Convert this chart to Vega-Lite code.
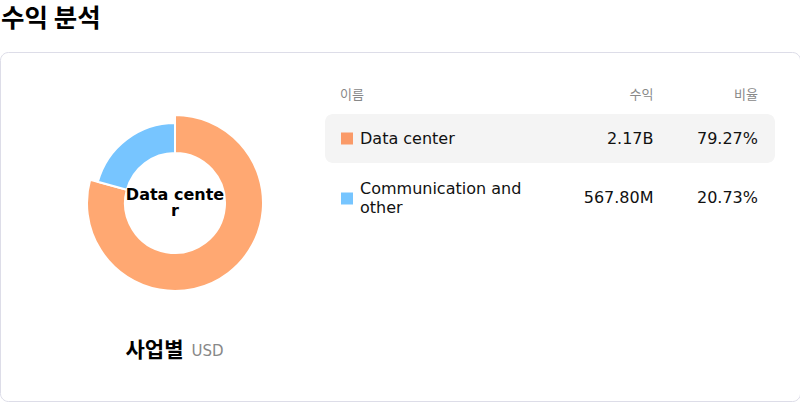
{
  "$schema": "https://vega.github.io/schema/vega-lite/v6.json",
  "description": "Revenue breakdown by business segment: donut chart with a small table of revenue and share.",
  "width": 800,
  "height": 402,
  "autosize": {"type": "fit", "contains": "padding"},
  "padding": {"top": 7, "left": 0, "right": 0, "bottom": 1},
  "background": "#ffffff",
  "title": {
    "text": "수익 분석",
    "anchor": "start",
    "frame": "group",
    "font": "Noto Sans CJK KR",
    "fontSize": 25.5,
    "fontWeight": "bold",
    "color": "#000000",
    "offset": 19.5,
    "dx": 1
  },
  "config": {
    "view": {"stroke": "#dddde8", "strokeWidth": 1, "cornerRadius": 8},
    "font": "DejaVu Sans"
  },
  "datasets": {
    "segments": [
      {"name": "Data center", "revenue": 2170400000, "revenue_label": "2.17B", "share": "79.27%"},
      {"name": "Communication and other", "revenue": 567800000, "revenue_label": "567.80M", "share": "20.73%"}
    ],
    "columns": [
      {"column": "이름"},
      {"column": "수익"},
      {"column": "비율"}
    ],
    "caption": [
      {"caption": "사업별", "unit": "USD"}
    ]
  },
  "layer": [
    {
      "data": {"name": "segments"},
      "layer": [
        {
          "mark": {"type": "arc", "innerRadius": 50, "stroke": "#ffffff", "strokeWidth": 2},
          "encoding": {
            "theta": {"field": "revenue", "type": "quantitative", "stack": true},
            "order": {"field": "revenue", "type": "quantitative", "sort": "descending"},
            "radius": {"value": {"expr": "datum.name === 'Data center' ? 88 : 80"}},
            "color": {
              "field": "name",
              "type": "nominal",
              "scale": {"domain": ["Data center", "Communication and other"], "range": ["#ffa872", "#77c5ff"]},
              "legend": null
            },
            "x": {"datum": "donut", "type": "nominal", "scale": {"type": "point", "domain": ["donut"], "range": [0, 350], "padding": 0}, "axis": null},
            "y": {"datum": "donut", "type": "nominal", "scale": {"type": "point", "domain": ["donut", "caption"], "range": [151, 298.5], "padding": 0}, "axis": null}
          }
        },
        {
          "transform": [{"filter": "datum.name === 'Data center'"}],
          "mark": {"type": "text", "font": "DejaVu Sans", "fontSize": 16, "fontWeight": "bold", "lineHeight": 16, "align": "center", "baseline": "middle", "dy": -8, "color": "#000000"},
          "encoding": {
            "text": {"value": ["Data cente", "r"]},
            "x": {"datum": "donut", "type": "nominal", "scale": {"type": "point", "domain": ["donut"], "range": [0, 350], "padding": 0}, "axis": null},
            "y": {"datum": "donut", "type": "nominal", "scale": {"type": "point", "domain": ["donut", "caption"], "range": [151, 298.5], "padding": 0}, "axis": null}
          }
        },
        {
          "data": {"name": "caption"},
          "mark": {"type": "text", "font": "Noto Sans CJK KR", "fontSize": 21, "fontWeight": "bold", "align": "right", "baseline": "middle", "dx": 8.5, "color": "#000000"},
          "encoding": {
            "text": {"field": "caption", "type": "nominal"},
            "x": {"datum": "donut", "type": "nominal", "scale": {"type": "point", "domain": ["donut"], "range": [0, 350], "padding": 0}, "axis": null},
            "y": {"datum": "caption", "type": "nominal", "scale": {"type": "point", "domain": ["donut", "caption"], "range": [151, 298.5], "padding": 0}, "axis": null}
          }
        },
        {
          "data": {"name": "caption"},
          "mark": {"type": "text", "font": "DejaVu Sans", "fontSize": 15, "align": "left", "baseline": "middle", "dx": 16.5, "color": "#888888"},
          "encoding": {
            "text": {"field": "unit", "type": "nominal"},
            "x": {"datum": "donut", "type": "nominal", "scale": {"type": "point", "domain": ["donut"], "range": [0, 350], "padding": 0}, "axis": null},
            "y": {"datum": "caption", "type": "nominal", "scale": {"type": "point", "domain": ["donut", "caption"], "range": [151, 298.5], "padding": 0}, "axis": null}
          }
        }
      ]
    },
    {
      "data": {"name": "segments"},
      "layer": [
        {
          "transform": [{"filter": "datum.name === 'Data center'"}],
          "mark": {"type": "rect", "fill": "#f4f4f4", "cornerRadius": 8},
          "encoding": {
            "x": {"datum": "row", "type": "nominal", "scale": {"domain": ["row"], "range": [325, 775], "paddingInner": 0, "paddingOuter": 0}, "axis": null},
            "y": {"field": "name", "type": "nominal", "scale": {"domain": ["header", "Data center", "Communication and other"], "range": [2, 171], "paddingInner": 0.1833, "paddingOuter": 0}, "axis": null}
          }
        },
        {
          "layer": [
            {
              "data": {"name": "columns"},
              "transform": [{"filter": "datum.column === '이름'"}],
              "mark": {"type": "text", "font": "Noto Sans CJK KR", "fontSize": 13, "align": "left", "baseline": "middle", "color": "#888888"},
              "encoding": {
                "text": {"field": "column", "type": "nominal"},
                "x": {"field": "column", "type": "nominal", "scale": {"type": "point", "domain": ["이름", "gap1", "gap2", "수익", "비율"], "range": [340, 758], "padding": 0}, "axis": null},
                "y": {"datum": "header", "type": "nominal", "bandPosition": 0.84, "scale": {"domain": ["header", "Data center", "Communication and other"], "range": [2, 171], "paddingInner": 0.1833, "paddingOuter": 0}, "axis": null}
              }
            },
            {
              "data": {"name": "columns"},
              "transform": [{"filter": "datum.column !== '이름'"}],
              "mark": {"type": "text", "font": "Noto Sans CJK KR", "fontSize": 13, "align": "right", "baseline": "middle", "color": "#888888"},
              "encoding": {
                "text": {"field": "column", "type": "nominal"},
                "x": {"field": "column", "type": "nominal", "scale": {"type": "point", "domain": ["이름", "gap1", "gap2", "수익", "비율"], "range": [340, 758], "padding": 0}, "axis": null},
                "y": {"datum": "header", "type": "nominal", "bandPosition": 0.84, "scale": {"domain": ["header", "Data center", "Communication and other"], "range": [2, 171], "paddingInner": 0.1833, "paddingOuter": 0}, "axis": null}
              }
            },
            {
              "mark": {"type": "square", "size": 144, "filled": true, "opacity": 1, "xOffset": 7},
              "encoding": {
                "fill": {
                  "field": "name",
                  "type": "nominal",
                  "scale": {"domain": ["Data center", "Communication and other"], "range": ["#fa9a68", "#76c5ff"]},
                  "legend": null
                },
                "x": {"datum": "이름", "type": "nominal", "scale": {"type": "point", "domain": ["이름", "gap1", "gap2", "수익", "비율"], "range": [340, 758], "padding": 0}, "axis": null},
                "y": {"field": "name", "type": "nominal", "scale": {"domain": ["header", "Data center", "Communication and other"], "range": [2, 171], "paddingInner": 0.1833, "paddingOuter": 0}, "axis": null}
              }
            },
            {
              "transform": [{"filter": "datum.name !== 'Communication and other'"}],
              "mark": {"type": "text", "font": "DejaVu Sans", "fontSize": 16, "align": "left", "baseline": "middle", "dx": 20, "color": "#111111"},
              "encoding": {
                "text": {"field": "name", "type": "nominal"},
                "x": {"datum": "이름", "type": "nominal", "scale": {"type": "point", "domain": ["이름", "gap1", "gap2", "수익", "비율"], "range": [340, 758], "padding": 0}, "axis": null},
                "y": {"field": "name", "type": "nominal", "scale": {"domain": ["header", "Data center", "Communication and other"], "range": [2, 171], "paddingInner": 0.1833, "paddingOuter": 0}, "axis": null}
              }
            },
            {
              "transform": [{"filter": "datum.name === 'Communication and other'"}],
              "mark": {"type": "text", "font": "DejaVu Sans", "fontSize": 16, "lineHeight": 18.5, "align": "left", "baseline": "middle", "dx": 20, "dy": -9.25, "color": "#111111"},
              "encoding": {
                "text": {"value": ["Communication and", "other"]},
                "x": {"datum": "이름", "type": "nominal", "scale": {"type": "point", "domain": ["이름", "gap1", "gap2", "수익", "비율"], "range": [340, 758], "padding": 0}, "axis": null},
                "y": {"field": "name", "type": "nominal", "scale": {"domain": ["header", "Data center", "Communication and other"], "range": [2, 171], "paddingInner": 0.1833, "paddingOuter": 0}, "axis": null}
              }
            },
            {
              "mark": {"type": "text", "font": "DejaVu Sans", "fontSize": 16, "align": "right", "baseline": "middle", "color": "#111111"},
              "encoding": {
                "text": {"field": "revenue_label", "type": "nominal"},
                "x": {"datum": "수익", "type": "nominal", "scale": {"type": "point", "domain": ["이름", "gap1", "gap2", "수익", "비율"], "range": [340, 758], "padding": 0}, "axis": null},
                "y": {"field": "name", "type": "nominal", "scale": {"domain": ["header", "Data center", "Communication and other"], "range": [2, 171], "paddingInner": 0.1833, "paddingOuter": 0}, "axis": null}
              }
            },
            {
              "mark": {"type": "text", "font": "DejaVu Sans", "fontSize": 16, "align": "right", "baseline": "middle", "color": "#111111"},
              "encoding": {
                "text": {"field": "share", "type": "nominal"},
                "x": {"datum": "비율", "type": "nominal", "scale": {"type": "point", "domain": ["이름", "gap1", "gap2", "수익", "비율"], "range": [340, 758], "padding": 0}, "axis": null},
                "y": {"field": "name", "type": "nominal", "scale": {"domain": ["header", "Data center", "Communication and other"], "range": [2, 171], "paddingInner": 0.1833, "paddingOuter": 0}, "axis": null}
              }
            }
          ]
        }
      ],
      "resolve": {"scale": {"x": "independent"}}
    }
  ],
  "resolve": {"scale": {"x": "independent", "y": "independent"}}
}
